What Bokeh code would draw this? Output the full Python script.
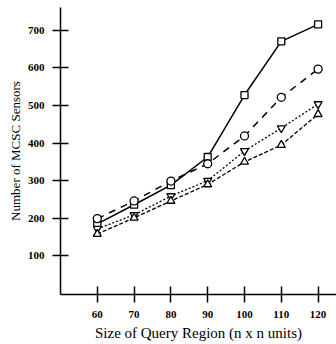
from bokeh.plotting import figure
from bokeh.models import Range1d, FixedTicker, Title
from bokeh.embed import file_html
from bokeh.resources import INLINE

sizes = [60, 70, 80, 90, 100, 110, 120]
series_square = [185, 236, 288, 363, 528, 671, 716]
series_circle = [199, 246, 299, 345, 419, 522, 597]
series_down = [172, 209, 259, 300, 379, 440, 504]
series_up = [158, 201, 246, 290, 350, 395, 477]
y_ticks = [100, 200, 300, 400, 500, 600, 700]

p = figure(width=336, height=344, output_backend="svg", toolbar_location=None,
           x_range=Range1d(50, 125), y_range=Range1d(-3, 761),
           min_border_left=60, min_border_right=0, min_border_top=7, min_border_bottom=50)
p.outline_line_color = None
p.xgrid.visible = False
p.ygrid.visible = False
p.background_fill_color = "white"
p.border_fill_color = "white"

font = "Liberation Serif"
for ax in (p.xaxis[0], p.yaxis[0]):
    ax.axis_line_width = 1.5
    ax.axis_line_color = "black"
    ax.major_tick_line_width = 1.5
    ax.major_tick_line_color = "black"
    ax.major_tick_in = 8
    ax.major_tick_out = 8
    ax.minor_tick_line_color = None
    ax.major_label_text_font = font
    ax.major_label_text_font_style = "bold"
    ax.major_label_text_font_size = "11px"
    ax.major_label_text_color = "black"
    ax.axis_label_text_font = font
    ax.axis_label_text_font_style = "normal"
    ax.axis_label_text_color = "black"

p.xaxis[0].ticker = FixedTicker(ticks=sizes)
p.yaxis[0].ticker = FixedTicker(ticks=y_ticks)
p.xaxis[0].major_label_standoff = 8
p.yaxis[0].major_label_standoff = 8
p.xaxis[0].axis_label = "Size of Query Region (n x n units)"
p.xaxis[0].axis_label_text_font_size = "15px"
p.xaxis[0].axis_label_standoff = 4

ytitle = Title(text="Number of MCSC Sensors", align="center", offset=27,
               text_font=font, text_font_size="13px", text_font_style="normal",
               text_color="black", standoff=4)
p.add_layout(ytitle, "left")

p.line(sizes, series_square, line_color="black", line_width=1.5)
p.line(sizes, series_circle, line_color="black", line_width=1.5, line_dash="7 6")
p.line(sizes, series_down, line_color="black", line_width=1.3, line_dash="2 2")
p.line(sizes, series_up, line_color="black", line_width=1.3, line_dash="4 2")

p.scatter(sizes, series_square, marker="square", size=7, fill_color="white", line_color="black", line_width=1.3)
p.scatter(sizes, series_circle, marker="circle", size=8, fill_color="white", line_color="black", line_width=1.3)
p.scatter(sizes, series_down, marker="inverted_triangle", size=8, fill_color="white", line_color="black", line_width=1.3)
p.scatter(sizes, series_up, marker="triangle", size=8, fill_color="white", line_color="black", line_width=1.3)

open("out.html", "w").write(file_html(p, INLINE))
